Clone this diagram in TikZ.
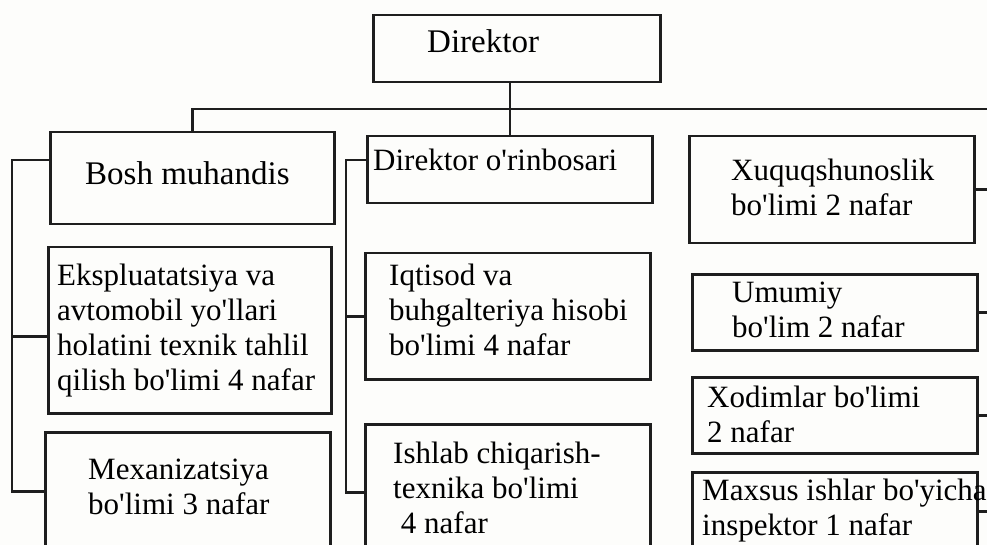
\documentclass[tikz,border=0pt]{standalone}
\usepackage{fontspec}
\setmainfont{Liberation Serif}[Ligatures=TeXOff]
\usepackage{tikz}
\usetikzlibrary{positioning,calc}
\definecolor{linecol}{RGB}{30,30,30}
\definecolor{paper}{RGB}{253,253,251}

\begin{document}
\begin{tikzpicture}[x=1pt, y=-1pt,
    box/.style={draw=linecol, line width=2.5pt, anchor=north west, inner sep=0pt},
    txt/.style={anchor=north west, inner sep=0pt, align=left, font=\fontsize{31}{35}\selectfont},
    big/.style={font=\fontsize{33}{38}\selectfont},
    link/.style={draw=linecol, line width=2.5pt}]

    \useasboundingbox[fill=paper] (0,0) rectangle (987,545);
    \clip (0,0) rectangle (987,545);

    % spines
    \coordinate (lspine) at (12,0);
    \coordinate (mspine) at (346,0);
    \coordinate (redge) at (987,109);

    % boxes
    \node[box, minimum width=287, minimum height=67] (dir) at (372,14) {};
    \node[box, minimum width=284, minimum height=92] (bosh) at (49,131) {};
    \node[box, minimum width=285, minimum height=67] (orin) at (366,135) {};
    \node[box, minimum width=285, minimum height=107] (xuq) at (688,135) {};
    \node[box, minimum width=283, minimum height=166] (eks) at (47,246) {};
    \node[box, minimum width=285, minimum height=118] (mex) at (44,431) {};
    \node[box, minimum width=285, minimum height=126] (iqt) at (364,252) {};
    \node[box, minimum width=285, minimum height=136] (ish) at (364,423) {};
    \node[box, minimum width=285, minimum height=76] (um) at (691,273) {};
    \node[box, minimum width=285, minimum height=76] (xod) at (691,376) {};
    \node[box, minimum width=285, minimum height=78] (max) at (691,471) {};

    % texts
    \node[txt, big] (dirtxt) at ($(dir.north west)+(55,15.5)$) {Direktor};
    \node[txt, big] (boshtxt) at ($(bosh.north west)+(36,30.5)$) {Bosh muhandis};
    \node[txt] (orintxt) at ($(orin.north west)+(7,14)$) {Direktor o'rinbosari};
    \node[txt] (xuqtxt) at ($(xuq.north west)+(43,24)$) {Xuquqshunoslik\\bo'limi 2 nafar};
    \node[txt] (ekstxt) at ($(eks.north west)+(10,18)$) {Ekspluatatsiya va\\avtomobil yo'llari\\holatini texnik tahlil\\qilish bo'limi 4 nafar};
    \node[txt] (mextxt) at ($(mex.north west)+(44,28)$) {Mexanizatsiya\\bo'limi 3 nafar};
    \node[txt] (iqttxt) at ($(iqt.north west)+(25,12)$) {Iqtisod va\\buhgalteriya hisobi\\bo'limi 4 nafar};
    \node[txt] (ishtxt) at ($(ish.north west)+(29,19)$) {Ishlab chiqarish-\\texnika bo'limi\\\ 4 nafar};
    \node[txt] (umtxt) at ($(um.north west)+(41,9)$) {Umumiy\\bo'lim 2 nafar};
    \node[txt] (xodtxt) at ($(xod.north west)+(16,10)$) {Xodimlar bo'limi\\2 nafar};
    \node[txt] (maxtxt) at ($(max.north west)+(11,8)$) {Maxsus ishlar bo'yicha\\inspektor 1 nafar};

    % links
    \coordinate (boshin) at ($(bosh.north west)+(0,29)$);
    \coordinate (orinin) at ($(orin.north west)+(0,25)$);
    \coordinate (eksin) at ($(eks.west)+(0,6)$);
    \draw[link] (orin.north) -- (orin.north |- dir.south);
    \draw[link] (bosh.north) |- (redge);
    \draw[link] (boshin) -| (lspine |- mex.west) -- (mex.west);
    \draw[link] (eksin) -- (eksin -| lspine);
    \draw[link] (orinin) -| (mspine |- ish.west) -- (ish.west);
    \draw[link] (iqt.west) -- (iqt.west -| mspine);
    \draw[link] (xuq.east) -- (xuq.east -| redge);
    \draw[link] (um.east) -- (um.east -| redge);
    \draw[link] (xod.east) -- (xod.east -| redge);
    \draw[link] (max.east) -- (max.east -| redge);

\end{tikzpicture}
\end{document}
